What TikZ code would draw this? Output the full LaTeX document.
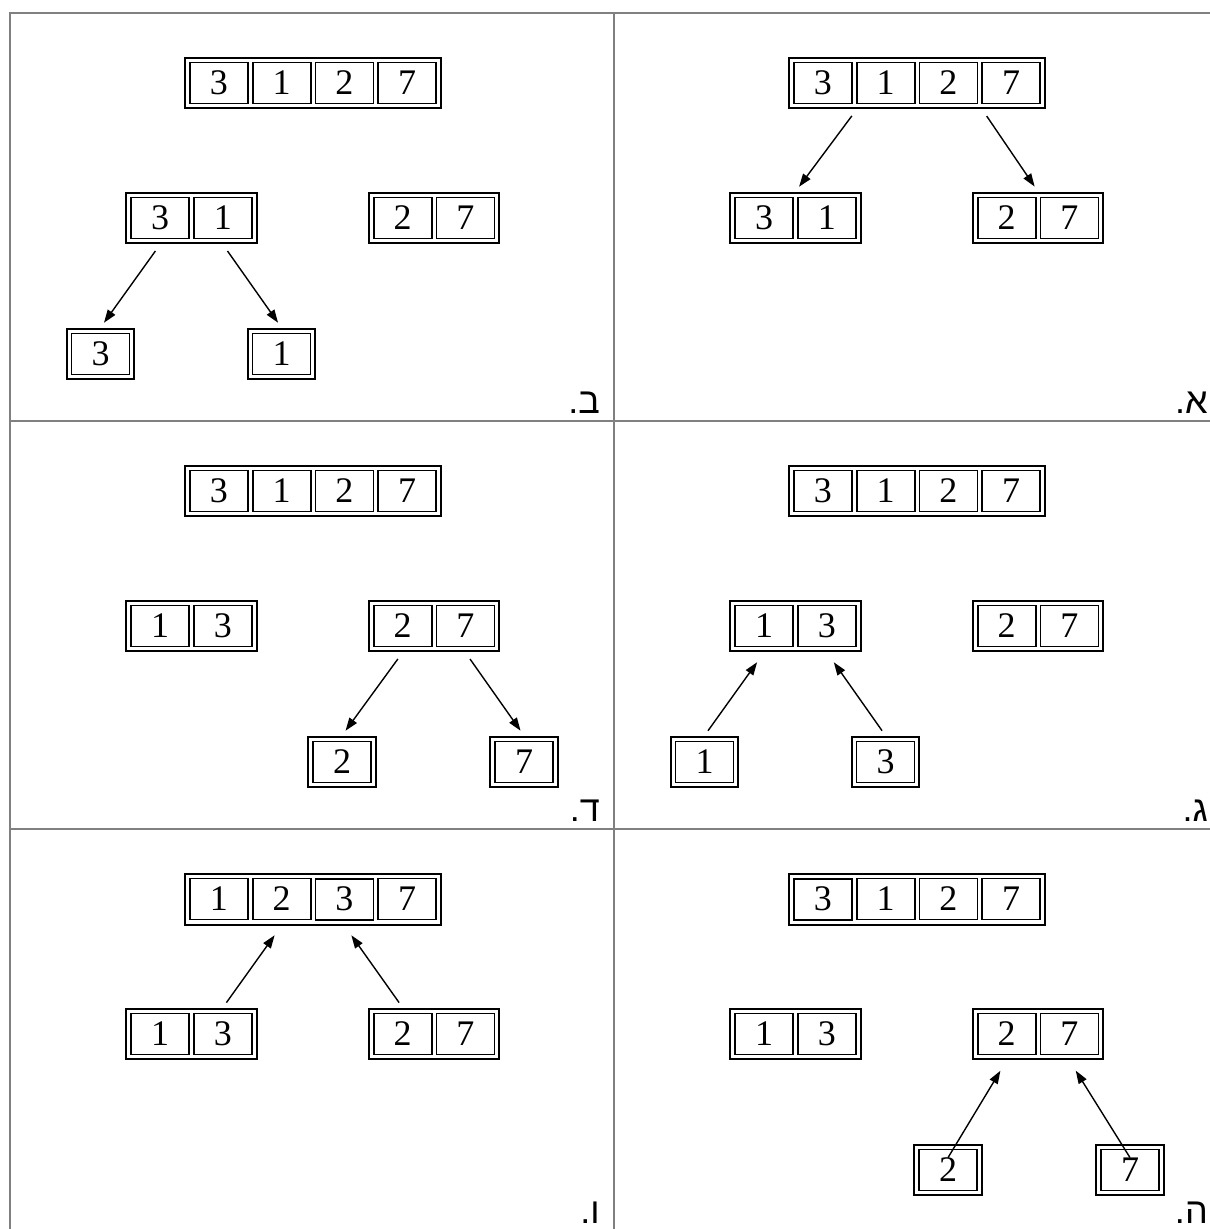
\documentclass[tikz,border=0pt]{standalone}
\usepackage{fontspec}
\usepackage{tikz}
\usetikzlibrary{matrix, arrows.meta, positioning}
\TeXXeTstate=1
\newfontfamily\numfont{Liberation Serif}
\newfontfamily\hebfont[Script=Hebrew]{Liberation Sans}

\begin{document}
\begin{tikzpicture}[
    x=1pt, y=-1pt,
    cell/.style = {rectangle, draw, line width=1.8pt, minimum width=58pt, minimum height=41pt, inner sep=0pt, outer sep=0pt, font=\fontsize{36}{40}\selectfont\numfont},
    arr/.style = {matrix of nodes, draw, line width=2pt, inner sep=4pt, column sep=3pt, nodes={cell}},
    split/.style = {->, line width=1.4pt, shorten <=8pt, shorten >=6pt},
    merge/.style = {->, line width=1.4pt, shorten <=6pt, shorten >=12pt},
    frame/.style = {draw=gray, line width=1.8pt},
    tag/.style = {anchor=base east, inner sep=0pt, font=\fontsize{36}{40}\selectfont\hebfont},
    >={Triangle[length=13pt,width=9pt]}]

\useasboundingbox (0,0) rectangle (1210,1229);

% table lines
\draw[frame] (10,1229) -- (10,13) -- (1210,13);
\draw[frame] (614,13) -- (614,1229);
\draw[frame] (10,421) -- (1210,421);
\draw[frame] (10,829) -- (1210,829);

% alef
\matrix (a0) [arr] at (917,83) {3 & 1 & 2 & 7\\};
\matrix (a1) [arr] at (795.5,218) {3 & 1\\};
\matrix (a2) [arr] at (1038,218) {2 & 7\\};
\node[tag] (la) at (1208,413) {\beginR א.\endR};

% bet
\matrix (b0) [arr] at (313,83) {3 & 1 & 2 & 7\\};
\matrix (b1) [arr] at (191.5,218) {3 & 1\\};
\matrix (b2) [arr] at (434,218) {2 & 7\\};
\matrix (b3) [arr] at (100.5,354) {3\\};
\matrix (b4) [arr] at (281.5,354) {1\\};
\node[tag] (lb) at (600,413) {\beginR ב.\endR};

% gimel
\matrix (g0) [arr] at (917,491) {3 & 1 & 2 & 7\\};
\matrix (g1) [arr] at (795.5,626) {1 & 3\\};
\matrix (g2) [arr] at (1038,626) {2 & 7\\};
\matrix (g3) [arr] at (704.5,762) {1\\};
\matrix (g4) [arr] at (885.5,762) {3\\};
\node[tag] (lg) at (1208,821) {\beginR ג.\endR};

% dalet
\matrix (d0) [arr] at (313,491) {3 & 1 & 2 & 7\\};
\matrix (d1) [arr] at (191.5,626) {1 & 3\\};
\matrix (d2) [arr] at (434,626) {2 & 7\\};
\matrix (d3) [arr] at (342,762) {2\\};
\matrix (d4) [arr] at (524,762) {7\\};
\node[tag] (ld) at (600,821) {\beginR ד.\endR};

% he
\matrix (h0) [arr] at (917,899) {3 & 1 & 2 & 7\\};
\matrix (h1) [arr] at (795.5,1034) {1 & 3\\};
\matrix (h2) [arr] at (1038,1034) {2 & 7\\};
\matrix (h3) [arr] at (948,1170) {2\\};
\matrix (h4) [arr] at (1130,1170) {7\\};
\node[tag] (lh) at (1208,1223) {\beginR ה.\endR};

% vav
\matrix (v0) [arr] at (313,899) {1 & 2 & 3 & 7\\};
\matrix (v1) [arr] at (191.5,1034) {1 & 3\\};
\matrix (v2) [arr] at (434,1034) {2 & 7\\};
\node[tag] (lv) at (600,1223) {\beginR ו.\endR};

%connectors
\draw[split] (a0-1-2.south west |- a0.south) -- (a1.north);
\draw[split] (a0-1-4.south west |- a0.south) -- (a2.north);
\draw[split] (b1-1-1 |- b1.south) -- (b3.north);
\draw[split] (b1-1-2 |- b1.south) -- (b4.north);
\draw[merge] (g3.north) -- (g1-1-1 |- g1.south);
\draw[merge] (g4.north) -- (g1-1-2 |- g1.south);
\draw[split] (d2-1-1 |- d2.south) -- (d3.north);
\draw[split] (d2-1-2 |- d2.south) -- (d4.north);
\draw[merge, shorten <=0pt] ([yshift=-14pt]h3.north) -- (h2-1-1 |- h2.south);
\draw[merge, shorten <=0pt] ([yshift=-14pt]h4.north) -- (h2-1-2 |- h2.south);
\draw[merge] (v1-1-2 |- v1.north) -- (v0-1-2 |- v0.south);
\draw[merge] (v2-1-1 |- v2.north) -- (v0-1-3 |- v0.south);
\end{tikzpicture}
\end{document}
